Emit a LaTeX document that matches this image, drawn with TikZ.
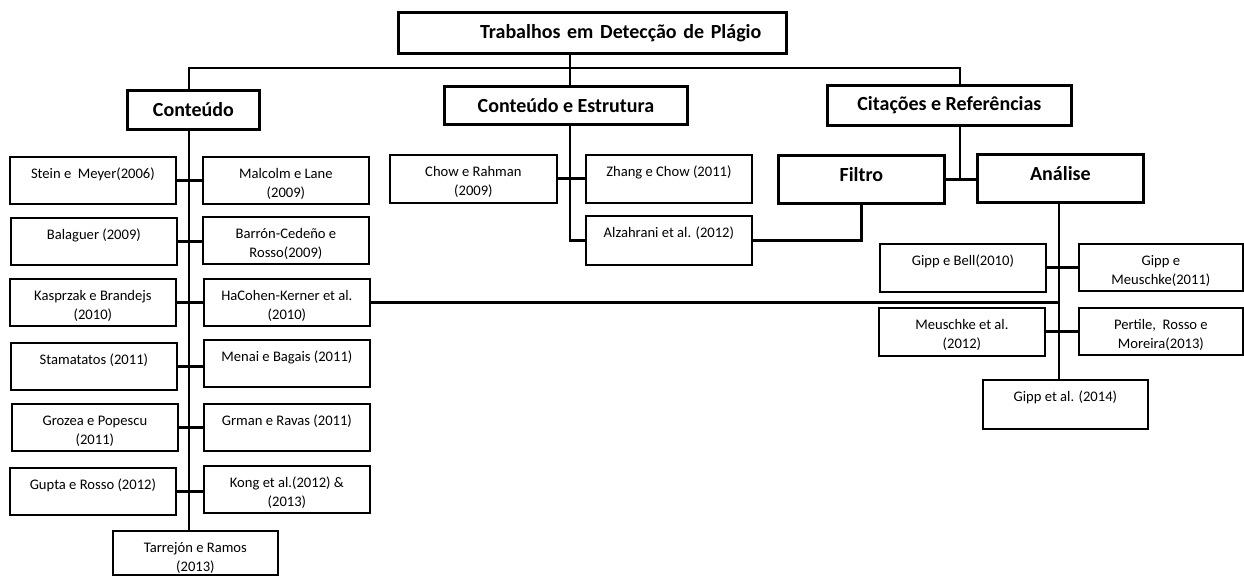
\documentclass[tikz,border=0pt]{standalone}
\usepackage{fontspec}
\setmainfont{Carlito}

% fixed-size cell: width, height, top gap, content (top aligned, centred)
\newcommand\cellbox[4]{\parbox[c][#2][t]{#1}{\centering\vspace*{#3}#4}}
\newcommand\refcell[3]{\cellbox{#1}{#2}{8.5pt}{\fontsize{14.6}{19}\selectfont\strut #3}}
\newcommand\headcell[3]{\cellbox{#1}{#2}{9.6pt}{\fontsize{20}{24}\selectfont\bfseries\strut #3}}

\tikzset{
  head/.style={draw, line width=2.8pt, inner sep=0pt, anchor=north west,
               font=\fontsize{20}{24}\selectfont\bfseries},
  ref/.style={draw, line width=1.8pt, inner sep=0pt, anchor=north west},
  link/.style={draw, line width=2.9pt},
}

\begin{document}
\begin{tikzpicture}[x=1pt, y=-1pt]
\useasboundingbox (0,0) rectangle (1244,576);

% top level
\node[head, minimum width=388pt, minimum height=41pt, text width=338pt, align=right]
  (root) at (397,11) {Trabalhos em Detecção de Plágio};
\node[head, minimum width=132pt, minimum height=39pt] (conteudo) at (126,89) {Conteúdo};
\node[head, minimum width=243pt, minimum height=38pt] (cee) at (443,85) {Conteúdo e Estrutura};
\node[head, minimum width=244pt, minimum height=40pt] (cit) at (826,84) {Citações e Referências};
\node[head] (filtro) at (777,154) {\headcell{166pt}{48pt}{Filtro}};
\node[head] (analise) at (976,153) {\headcell{166pt}{48pt}{Análise}};

% trunk positions
\coordinate (cx) at (189,0);
\coordinate (rx) at (570,0);
\coordinate (qx) at (960,0);
\coordinate (ax) at (1059,0);
\coordinate (bus) at (570,68);

% content-based works
\node[ref] (stein)      at (9,156)   {\refcell{166pt}{47pt}{Stein e\ \ Meyer(2006)}};
\node[ref] (malcolm)    at (202,156) {\refcell{166pt}{47pt}{Malcolm e Lane\\(2009)}};
\node[ref] (balaguer)   at (10,217)  {\refcell{166pt}{47pt}{Balaguer (2009)}};
\node[ref] (barron)     at (202,216) {\refcell{166pt}{47pt}{Barrón-Cedeño e\\Rosso(2009)}};
\node[ref] (kasprzak)   at (9,278)   {\refcell{166pt}{47pt}{Kasprzak e Brandejs\\(2010)}};
\node[ref] (hacohen)    at (203,278) {\refcell{166pt}{47pt}{HaCohen-Kerner et al.\\(2010)}};
\node[ref] (stamatatos) at (10,342)  {\refcell{166pt}{47pt}{Stamatatos (2011)}};
\node[ref] (menai)      at (203,339) {\refcell{166pt}{47pt}{Menai e Bagais (2011)}};
\node[ref] (grozea)     at (11,403)  {\refcell{166pt}{47pt}{Grozea e Popescu\\(2011)}};
\node[ref] (grman)      at (203,403) {\refcell{166pt}{47pt}{Grman e Ravas (2011)}};
\node[ref] (gupta)      at (9,467)   {\refcell{166pt}{47pt}{Gupta e Rosso (2012)}};
\node[ref] (kong)       at (203,465) {\refcell{166pt}{47pt}{Kong et al.(2012) \&\\(2013)}};
\node[ref] (tarrejon)   at (112,530) {\refcell{165pt}{44pt}{Tarrejón e Ramos\\(2013)}};

% content and structure
\node[ref] (chow)  at (389,154) {\refcell{167pt}{48pt}{Chow e Rahman\\(2009)}};
\node[ref] (zhang) at (585,154) {\refcell{166pt}{48pt}{Zhang e Chow (2011)}};
\node[ref] (alz)   at (585,215) {\refcell{166pt}{49pt}{Alzahrani et al. (2012)}};

% citations and references
\node[ref] (gippbell) at (879,243)  {\refcell{166pt}{48pt}{Gipp e Bell(2010)}};
\node[ref] (gippmeus) at (1078,243) {\refcell{164pt}{47pt}{Gipp e\\Meuschke(2011)}};
\node[ref] (meuschke) at (878,307)  {\refcell{166pt}{48pt}{Meuschke et al.\\(2012)}};
\node[ref] (pertile)  at (1078,307) {\refcell{164pt}{47pt}{Pertile,\ \ Rosso e\\Moreira(2013)}};
\node[ref] (gippetal) at (982,379)  {\refcell{165pt}{49pt}{Gipp et al. (2014)}};

% main bus
\draw[link] (rx |- root.south) -- (rx |- cee.north);
\draw[link] (cx |- conteudo.north) -- (cx |- bus) -- (qx |- bus) -- (qx |- cit.north);

% content branch
\draw[link] (cx |- conteudo.south) -- (cx |- tarrejon.north);
\foreach \l/\r in {stein/malcolm, balaguer/barron, kasprzak/hacohen,
                   stamatatos/menai, grozea/grman, gupta/kong}
  \draw[link] (\l.east) -- (\l.east -| \r.west);

% content and structure branch
\draw[link] (rx |- cee.south) |- (alz.west);
\draw[link] (chow.east) -- (chow.east -| zhang.west);
\draw[link] (alz.east) -| (filtro.south);

% citations branch
\draw[link] (qx |- cit.south) -- (qx |- filtro.east);
\draw[link] (filtro.east) -- (filtro.east -| analise.west);
\draw[link] (ax |- analise.south) -- (ax |- gippetal.north);
\draw[link] (gippbell.east) -- (gippbell.east -| gippmeus.west);
\draw[link] (meuschke.east) -- (meuschke.east -| pertile.west);

% cross link
\draw[link] (hacohen.east) -- (hacohen.east -| ax);
\end{tikzpicture}
\end{document}
